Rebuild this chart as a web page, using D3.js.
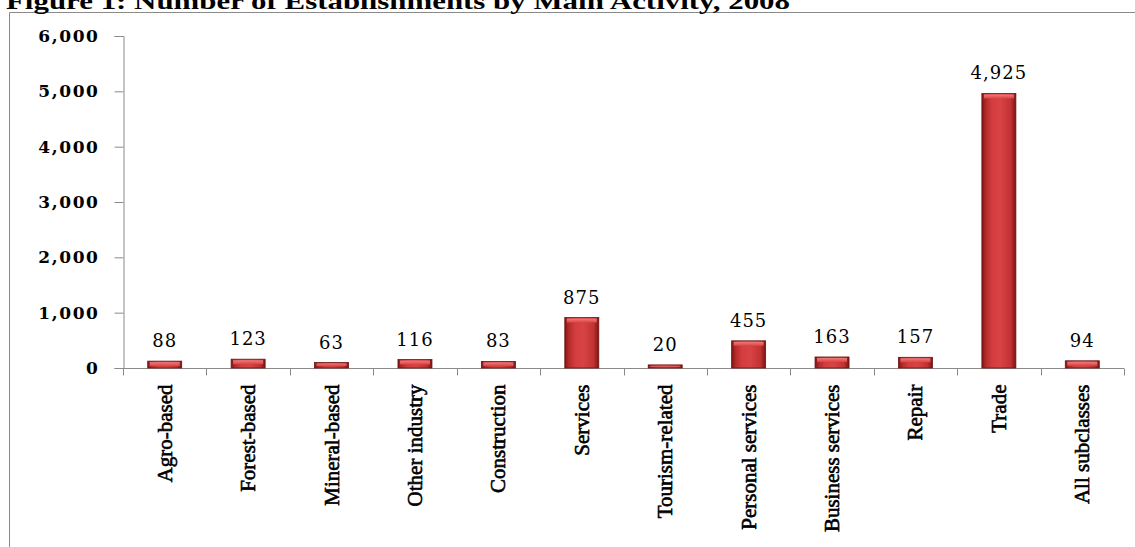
<!DOCTYPE html>
<html>
<head>
<meta charset="utf-8">
<script src="https://cdn.jsdelivr.net/npm/d3@7"></script>
<style>
  body { margin: 0; background: #fff; }
  svg { display: block; }
</style>
</head>
<body>
<svg id="chart" width="1135" height="547"></svg>
<script>
// data
const categories = ['Agro-based', 'Forest-based', 'Mineral-based', 'Other industry', 'Construction',
  'Services', 'Tourism-related', 'Personal services', 'Business services', 'Repair', 'Trade', 'All subclasses'];
const counts = [88, 123, 63, 116, 83, 875, 20, 455, 163, 157, 4925, 94];
const yTicks = [0, 1000, 2000, 3000, 4000, 5000, 6000];
const title = 'Figure 1: Number of Establishments by Main Activity, 2008';

const W = 1135, H = 547;
const m = { left: 123, right: 11, top: 36, bottom: 179 };

const svg = d3.select('#chart');

// gradient for the bevelled bars
const defs = svg.append('defs');
const grad = defs.append('linearGradient').attr('id', 'barGrad')
  .attr('x1', 0).attr('x2', 1).attr('y1', 0).attr('y2', 0);
[[0, '#7e1515'], [0.12, '#b52b2b'], [0.3, '#d43d3d'], [0.55, '#d84343'], [0.85, '#c13232'], [1, '#7a1414']]
  .forEach(([o, c]) => grad.append('stop').attr('offset', o).attr('stop-color', c));
const topGrad = defs.append('linearGradient').attr('id', 'topGrad')
  .attr('x1', 0).attr('x2', 0).attr('y1', 0).attr('y2', 1);
[[0, '#f07a7a'], [1, '#d84444']]
  .forEach(([o, c]) => topGrad.append('stop').attr('offset', o).attr('stop-color', c));

// outer frame (top and left edges visible)
svg.append('path')
  .attr('d', `M9.5,${H}V12.5H${W}`)
  .attr('fill', 'none').attr('stroke', '#8a8a8a').attr('stroke-width', 1);

// title (cut at the top like the original)
svg.append('text')
  .attr('x', 6).attr('y', 9)
  .attr('textLength', 784).attr('lengthAdjust', 'spacingAndGlyphs')
  .style('font-family', '"Liberation Serif", "DejaVu Serif", serif')
  .style('font-size', '23px').style('font-weight', 'bold')
  .text(title);

const x = d3.scaleBand().domain(categories).range([m.left, W - m.right]).paddingInner(0).paddingOuter(0);
const y = d3.scaleLinear().domain([0, 6000]).range([H - m.bottom, m.top]);

// y axis
const yAxis = svg.append('g').attr('transform', `translate(${m.left + 0.5},0)`)
  .call(d3.axisLeft(y).tickValues(yTicks).tickFormat(d3.format(',')).tickSize(9).tickPadding(15));
yAxis.select('.domain').attr('stroke', '#8a8a8a');
yAxis.selectAll('.tick line').attr('stroke', '#8a8a8a');
yAxis.selectAll('.tick text')
  .style('font-family', '"DejaVu Serif", serif').style('font-weight', 'bold')
  .style('font-size', '17px').style('letter-spacing', '1.6px').attr('fill', '#000');

// x axis: ticks at category boundaries
const xg = svg.append('g').attr('transform', `translate(0,${H - m.bottom + 0.5})`);
xg.append('line').attr('x1', m.left).attr('x2', W - m.right).attr('stroke', '#8a8a8a');
const bounds = categories.map(c => x(c)).concat([x(categories[categories.length - 1]) + x.bandwidth()]);
xg.selectAll('line.tk').data(bounds).join('line').attr('class', 'tk')
  .attr('x1', d => Math.round(d) + 0.5).attr('x2', d => Math.round(d) + 0.5)
  .attr('y1', 0).attr('y2', 7).attr('stroke', '#8a8a8a');

// category labels, rotated
xg.selectAll('text.cat').data(categories).join('text').attr('class', 'cat')
  .attr('transform', d => `translate(${x(d) + x.bandwidth() / 2 + 7},16) rotate(-90)`)
  .attr('text-anchor', 'end')
  .style('font-family', '"Liberation Serif", serif').style('font-size', '21px')
  .attr('stroke', '#000').attr('stroke-width', 0.6)
  .text(d => d);

// bars
const bw = 34;
const data = categories.map((c, i) => ({ c, v: counts[i] }));
const bars = svg.append('g').selectAll('g').data(data).join('g')
  .attr('transform', d => `translate(${x(d.c) + x.bandwidth() / 2 - bw / 2},0)`);
bars.append('rect')
  .attr('x', 0).attr('width', bw)
  .attr('y', d => y(d.v) - 2).attr('height', d => y(0) - y(d.v) + 2)
  .attr('fill', 'url(#barGrad)').attr('stroke', '#6e1212').attr('stroke-width', 0.8);
bars.append('rect')
  .attr('x', 2).attr('width', bw - 4)
  .attr('y', d => y(d.v) - 1)
  .attr('height', d => Math.min(4, Math.max(1, y(0) - y(d.v) - 1)))
  .attr('fill', 'url(#topGrad)');

// value labels
svg.append('g').selectAll('text').data(data).join('text')
  .attr('x', d => x(d.c) + x.bandwidth() / 2)
  .attr('y', d => y(d.v) - 16)
  .attr('text-anchor', 'middle')
  .style('font-family', '"DejaVu Serif", serif').style('font-size', '18px')
  .style('letter-spacing', '1px')
  .attr('fill', '#000')
  .text(d => d3.format(',')(d.v));
</script>
</body>
</html>
